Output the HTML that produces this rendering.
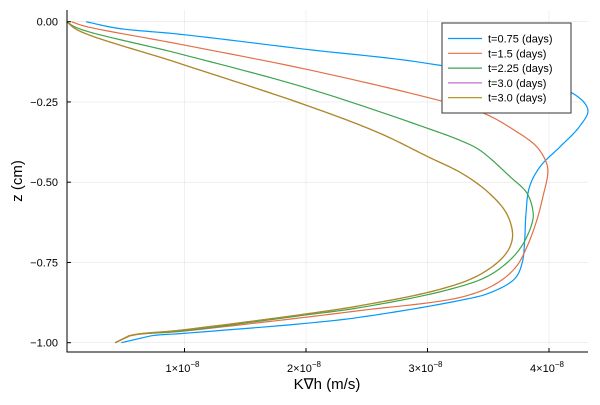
<!DOCTYPE html>
<html><head><meta charset="utf-8"><style>
body{margin:0;background:#fff}
svg text{font-family:"Liberation Sans","DejaVu Sans",sans-serif;fill:#000}
</style></head><body>
<svg id="chart" width="600" height="400" xmlns="http://www.w3.org/2000/svg">
<g id="grid"></g>
<g id="series"></g>
<g id="axes"></g>
<text x="327" y="389" font-size="15" text-anchor="middle">K∇h (m/s)</text>
<text transform="translate(22,181) rotate(-90)" font-size="15" text-anchor="middle">z (cm)</text>
<g id="legend"></g>
</svg>
<script>
const xTicks = [1, 2, 3, 4];
const yTicks = [0, -0.25, -0.5, -0.75, -1.0];
const yTickLabels = ["0.00", "−0.25", "−0.50", "−0.75", "−1.00"];
const seriesNames = ["t=0.75 (days)", "t=1.5 (days)", "t=2.25 (days)", "t=3.0 (days)", "t=3.0 (days)"];
const seriesColors = ["#009AFA", "#E26F46", "#3DA44D", "#C271D2", "#AC8D18"];
// x in units of 1e-8 m/s, z in cm
const blueX = [0.19,0.44,0.96,2.0,3.0,4.18,4.32,4.25,4.09,3.93,3.84,3.81,3.80,3.78,3.72,3.51,3.27,2.44,1.99,0.99,0.72,0.48];
const blueZ = [0,-0.02,-0.039,-0.086,-0.13,-0.22,-0.275,-0.327,-0.39,-0.45,-0.514,-0.6,-0.68,-0.75,-0.80,-0.845,-0.868,-0.921,-0.94,-0.971,-0.979,-1.0];
const orangeX = [0.07,0.17,0.96,2.0,3.0,3.46,3.71,3.90,3.98,3.99,3.95,3.90,3.82,3.73,3.57,3.29,2.44,1.99,0.99,0.55,0.43];
const orangeZ = [0,-0.013,-0.07,-0.148,-0.236,-0.285,-0.337,-0.39,-0.441,-0.472,-0.545,-0.618,-0.70,-0.763,-0.815,-0.857,-0.90,-0.921,-0.964,-0.979,-1.0];
const greenX = [0.03,0.12,0.96,2.0,3.0,3.27,3.43,3.68,3.82,3.87,3.86,3.79,3.68,3.49,3.16,2.44,1.99,0.99,0.54,0.43];
const greenZ = [0,-0.02,-0.10,-0.206,-0.332,-0.37,-0.40,-0.483,-0.535,-0.597,-0.628,-0.69,-0.742,-0.794,-0.836,-0.891,-0.914,-0.963,-0.979,-1.0];
const t3X = [0.03,0.12,0.96,2.0,2.61,3.0,3.29,3.51,3.65,3.70,3.68,3.60,3.40,3.08,2.44,1.99,0.99,0.54,0.43];
const t3Z = [0,-0.026,-0.13,-0.26,-0.348,-0.42,-0.474,-0.535,-0.597,-0.659,-0.70,-0.742,-0.794,-0.836,-0.885,-0.911,-0.960,-0.979,-1.0];

const NS="http://www.w3.org/2000/svg";
const L=67,R=588,T=10,B=352;
const sx=v=>63+121.5*v;
const sy=z=>21.7-321*z;
function mk(tag,attrs,parent){const e=document.createElementNS(NS,tag);for(const k in attrs)e.setAttribute(k,attrs[k]);parent.appendChild(e);return e;}
const grid=document.getElementById('grid'),axes=document.getElementById('axes'),ser=document.getElementById('series'),leg=document.getElementById('legend');
xTicks.forEach(t=>{
  const g=mk('line',{x1:sx(t),x2:sx(t),y1:T,y2:B,stroke:'#000','stroke-opacity':0.1,'stroke-width':0.6},grid);
  
  
  const tk=mk('line',{x1:sx(t),x2:sx(t),y1:B,y2:B-4,stroke:'#000','stroke-width':1},axes);
  
  
  const tx=mk('text',{x:sx(t)-2,y:372,'font-size':11,'text-anchor':'middle'},axes);
  
  
  tx.textContent=t+'×10';
  const sp=mk('tspan',{dy:-5,'font-size':8},tx);sp.textContent='−8';
});
yTicks.forEach((t,i)=>{
  const g=mk('line',{x1:L,x2:R,y1:sy(t),y2:sy(t),stroke:'#000','stroke-opacity':0.1,'stroke-width':0.6},grid);
  
  
  const tk=mk('line',{x1:L,x2:L+4,y1:sy(t),y2:sy(t),stroke:'#000','stroke-width':1},axes);
  
  
  const tx=mk('text',{x:58,y:sy(t)+4,'font-size':11,'text-anchor':'end'},axes);
  
  
  tx.textContent=yTickLabels[i];
});
const ax=mk('path',{d:`M${L},${T}V${B}H${R}`,fill:'none',stroke:'#000','stroke-width':1},axes);


const data=[[blueX,blueZ],[orangeX,orangeZ],[greenX,greenZ],[t3X,t3Z],[t3X,t3Z]];
// centripetal Catmull-Rom sampled to polyline; last segment straight
function crPoint(p0,p1,p2,p3,t){
  const a=0.5;
  const d=(p,q)=>Math.pow(Math.hypot(q[0]-p[0],q[1]-p[1])||1e-6,a);
  const t0=0,t1=t0+d(p0,p1),t2=t1+d(p1,p2),t3=t2+d(p2,p3);
  const tt=t1+(t2-t1)*t;
  const lerp=(P,Q,ta,tb)=>[(tb-tt)/(tb-ta)*P[0]+(tt-ta)/(tb-ta)*Q[0],(tb-tt)/(tb-ta)*P[1]+(tt-ta)/(tb-ta)*Q[1]];
  const A1=lerp(p0,p1,t0,t1),A2=lerp(p1,p2,t1,t2),A3=lerp(p2,p3,t2,t3);
  const B1=lerp(A1,A2,t0,t2),B2=lerp(A2,A3,t1,t3);
  return lerp(B1,B2,t1,t2);
}
function smooth(pts){
  const n=pts.length;
  let d=`M${pts[0][0].toFixed(2)},${pts[0][1].toFixed(2)}`;
  for(let i=0;i<n-1;i++){
    const p1=pts[i],p2=pts[i+1];
    if(i>=n-2){d+=`L${p2[0]},${p2[1]}`;continue;}
    const p0=i>0?pts[i-1]:[2*p1[0]-p2[0],2*p1[1]-p2[1]];
    const p3=pts[i+2];
    for(let s=1;s<=12;s++){const q=crPoint(p0,p1,p2,p3,s/12);d+=`L${q[0].toFixed(2)},${q[1].toFixed(2)}`;}
  }
  return d;
}
data.forEach((s,i)=>{
  const pts=s[0].map((x,j)=>[sx(x),sy(s[1][j])]);
  const p=mk('path',{d:smooth(pts),fill:'none',stroke:seriesColors[i],'stroke-width':1.2,'stroke-linejoin':'round'},ser);
  
  
});
const box=mk('rect',{x:442,y:23,width:129,height:90,fill:'#fff',stroke:'#555','stroke-width':1.2},leg);


seriesNames.forEach((n,i)=>{
  const y=38.5+i*14.8;
  const ln=mk('line',{x1:448,x2:482,y1:y,y2:y,stroke:seriesColors[i],'stroke-width':1.2},leg);
  
  
  const t=mk('text',{x:488,y:y+4,'font-size':11},leg);
  
  
  t.textContent=n;
});
</script>
</body></html>
